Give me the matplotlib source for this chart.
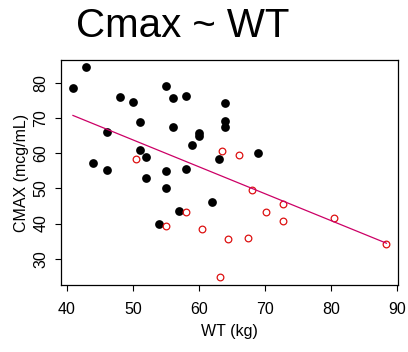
import numpy as np
import matplotlib
matplotlib.use('Agg')
import matplotlib.pyplot as plt

plt.rcParams['font.family'] = ['Liberation Sans', 'DejaVu Sans']

# black filled points
wt_a = [40.9, 42.9, 48.0, 50.0, 55.0, 56.0, 58.0, 64.0, 51.0, 56.0, 60.0, 60.0,
        64.0, 64.0, 46.0, 59.0, 51.0, 52.0, 43.9, 46.0, 55.0, 58.0, 63.0, 52.0,
        55.0, 69.0, 62.0, 57.0, 54.0]
cmax_a = [78.5, 84.4, 76.0, 74.5, 79.0, 75.7, 76.1, 74.1, 68.8, 67.5, 65.6, 64.9,
          69.2, 67.5, 66.1, 62.2, 60.8, 58.8, 57.2, 55.1, 55.0, 55.4, 58.2, 52.9,
          50.0, 60.0, 46.0, 43.5, 39.9]

# red open points
wt_b = [50.4, 63.5, 66.1, 55.05, 58.1, 60.4, 63.2, 64.4, 68.0, 70.2, 72.7, 72.8,
        67.4, 80.5, 88.4]
cmax_b = [58.2, 60.6, 59.5, 39.2, 43.2, 38.4, 24.7, 35.5, 49.5, 43.3, 45.5, 40.7,
          36.0, 41.7, 34.3]

# regression line ends
fit_x = [40.9, 88.4]
fit_y = [70.7, 34.4]

xticks = [40, 50, 60, 70, 80, 90]
yticks = [30, 40, 50, 60, 70, 80]

fig = plt.figure(figsize=(4.08, 3.52), dpi=100)
ax = fig.add_axes([61/408, 1 - 285/352, 337/408, 225/352])

ax.plot(wt_a, cmax_a, 'o', color='black', markersize=6.3, markeredgewidth=0)
ax.plot(wt_b, cmax_b, 'o', markerfacecolor='none', markeredgecolor='#dd1111',
        markersize=4.8, markeredgewidth=0.9)
ax.plot(fit_x, fit_y, color='#cc0066', lw=0.9)

ax.set_xlim(39.09, 90.15)
ax.set_ylim(22.53, 86.45)
ax.set_xticks(xticks)
ax.set_yticks(yticks)
ax.set_yticklabels([str(t) for t in yticks], rotation=90, va='center')
ax.tick_params(labelsize=11.5, length=4, width=0.8)
ax.tick_params(axis='x', pad=8)
ax.tick_params(axis='y', pad=5)
for s in ax.spines.values():
    s.set_linewidth(0.9)

ax.set_xlabel('WT (kg)', fontsize=11.5, labelpad=5)
ax.set_ylabel('CMAX (mcg/mL)', fontsize=11.5, labelpad=3)

fig.text(76/408, 1 - 37/352, 'Cmax ~ WT', fontsize=29, ha='left', va='baseline')

fig.savefig('out.png', dpi=100)
